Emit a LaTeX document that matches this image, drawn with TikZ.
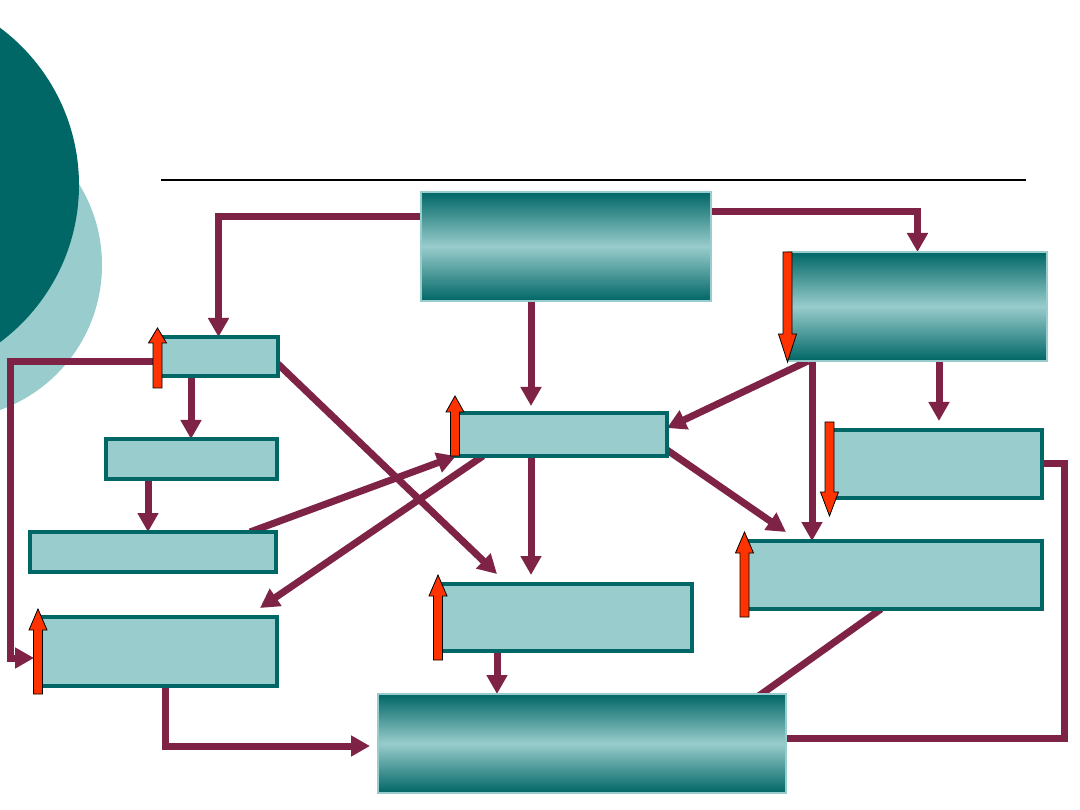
\documentclass[tikz,border=0pt]{standalone}
\usepackage{xcolor}
\usepackage{tikz}
\usetikzlibrary{arrows.meta, backgrounds}

\definecolor{tealdark}{RGB}{0,102,102}
\definecolor{teallight}{RGB}{153,204,204}
\definecolor{linkred}{RGB}{126,35,70}
\definecolor{flagred}{RGB}{255,51,0}
\pgfdeclareverticalshading{tube}{100bp}{color(0bp)=(tealdark); color(25bp)=(tealdark); color(50bp)=(teallight); color(75bp)=(tealdark); color(100bp)=(tealdark)}

% red block arrow: x, tail, head base, tip
\newcommand{\redarrow}[4]{%
  \draw[flag] (#1-4.5,#2) -- (#1-4.5,#3) -- (#1-9,#3) -- (#1,#4) -- (#1+9,#3) -- (#1+4.5,#3) -- (#1+4.5,#2) -- cycle;}

\begin{document}
\begin{tikzpicture}[
    x=1pt, y=-1pt,
    lbox/.style={draw=tealdark, fill=teallight, line width=4pt, inner sep=0pt, outer sep=0pt},
    gbox/.style={draw=teallight, line width=1.5pt, shade, shading=tube, inner sep=0pt, outer sep=0pt},
    link/.style={line width=7pt, draw=linkred, -{Triangle[length=19pt, width=20pt]}},
    flag/.style={fill=flagred, draw=black, line width=0.8pt, line join=miter}
]
    \useasboundingbox (0,0) rectangle (1080,810);

    % Shaded boxes
    \node (src) [gbox, minimum width=290pt, minimum height=109pt] at (566,246.5) {};
    \node (ctl) [gbox, minimum width=259pt, minimum height=109pt] at (917.5,306.5) {};
    \node (sink) [gbox, minimum width=408pt, minimum height=99pt] at (582,743.5) {};

    % Plain boxes
    \node (a1) [lbox, minimum width=119pt, minimum height=39pt] at (218.5,356.5) {};
    \node (a2) [lbox, minimum width=171pt, minimum height=40pt] at (191.5,459) {};
    \node (a3) [lbox, minimum width=246pt, minimum height=40pt] at (153,552) {};
    \node (a4) [lbox, minimum width=236pt, minimum height=69pt] at (159,651.5) {};
    \node (m1) [lbox, minimum width=211pt, minimum height=43pt] at (561.5,434.5) {};
    \node (m2) [lbox, minimum width=251pt, minimum height=67pt] at (566.5,617.5) {};
    \node (r1) [lbox, minimum width=210pt, minimum height=68pt] at (937,464) {};
    \node (r2) [lbox, minimum width=296pt, minimum height=68pt] at (894,575) {};

    % Free ends
    \coordinate (t7) at (497,574);
    \coordinate (t9) at (260,608);
    \coordinate (t11) at (786,532);
    \coordinate (t17) at (732,715);

    \begin{scope}[on background layer]
        % Backdrop
        \fill[teallight] (-52,265) circle (154);
        \fill[tealdark] (-117,185) circle (196);
        \draw[line width=1.5pt] (161,180) -- (1026,180);

        % Flows
        \draw [link] (src.west |- 0,217) -| (a1.north);
        \draw [link] (src.east |- 0,212) -| (ctl.north);
        \draw [link, shorten >=7pt] (src.south -| 531,0) -- (m1.north -| 531,0);
        \draw [link, shorten >=7pt] (a1.west |- 0,362) -- (10,362) |- (a4.west |- 0,658);
        \draw [link] (a1.south -| 191,0) -- (a2.north -| 191,0);
        \draw [link] (a2.south -| 148,0) -- (a3.north -| 148,0);
        \draw [link] (a1.east |- 0,364) -- (t7);
        \draw [link] (a3.north -| 250,0) -- (m1.south west);
        \draw [link] (m1.south -| 483,0) -- (t9);
        \draw [link, shorten >=9pt] (m1.south -| 531,0) -- (m2.north -| 531,0);
        \draw [link] (m1.east |- 0,450) -- (t11);
        \draw [link] (ctl.south -| 808,0) -- (m1.east |- 0,428);
        \draw [link] (ctl.south -| 812,0) -- (r2.north -| 812,0);
        \draw [link, shorten >=9pt] (ctl.south -| 939,0) -- (r1.north -| 939,0);
        \draw [link] (m2.south -| 497,0) -- (sink.north -| 497,0);
        \draw [link, shorten >=8pt] (a4.south -| 165,0) |- (sink.west |- 0,746);
        \draw [link] (r2.south -| 881,0) -- (t17);
        \draw [line width=7pt, draw=linkred] (r1.east) -- (1064,464) |- (sink.east |- 0,738);
    \end{scope}

    % Red markers
    \redarrow{157.5}{388}{343}{328}
    \redarrow{455}{456}{412}{396}
    \redarrow{787.5}{252}{334}{362}
    \redarrow{829.5}{422}{492}{516}
    \redarrow{744.5}{617}{553}{532}
    \redarrow{438}{660}{596}{575}
    \redarrow{38}{694}{630}{609}

\end{tikzpicture}
\end{document}
